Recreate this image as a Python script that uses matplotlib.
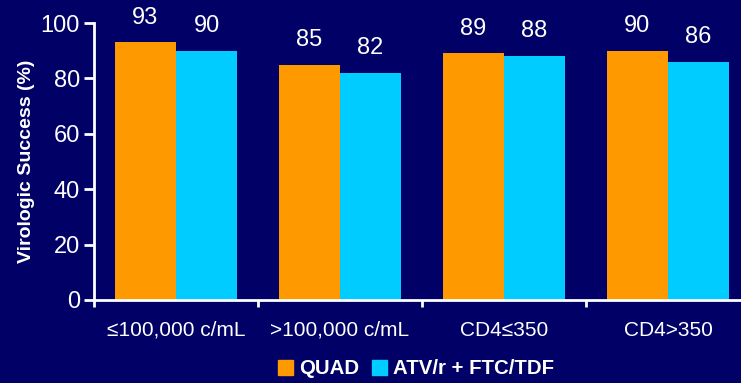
import matplotlib.pyplot as plt
import numpy as np
from matplotlib.patches import Patch

categories = ['≤100,000 c/mL', '>100,000 c/mL', 'CD4≤350', 'CD4>350']
quad = [93, 85, 89, 90]
atv = [90, 82, 88, 86]
series_names = ['QUAD', 'ATV/r + FTC/TDF']

bg = '#000066'
orange = '#FF9900'
cyan = '#00CCFF'

plt.rcParams['font.family'] = ['Liberation Sans', 'DejaVu Sans']

fig = plt.figure(figsize=(7.41, 3.83), dpi=100, facecolor=bg)
ax = fig.add_axes([94 / 741, 83 / 383, 656 / 741, 277 / 383], facecolor=bg)

x = np.arange(len(categories))
w = 0.372
b1 = ax.bar(x - w / 2, quad, w, color=orange)
b2 = ax.bar(x + w / 2, atv, w, color=cyan)

for bars in (b1, b2):
    for r in bars:
        ax.annotate(f'{r.get_height():.0f}', (r.get_x() + r.get_width() / 2, r.get_height()),
                    xytext=(0, 10), textcoords='offset points', ha='center', va='bottom',
                    color='white', fontsize=17)

ax.set_xlim(-0.5, 3.5)
ax.set_ylim(0, 100)
ax.set_yticks(range(0, 101, 20))
# boundary ticks between groups, group names on minor ticks
ax.set_xticks(np.arange(-0.5, 4, 1))
ax.set_xticklabels([])
ax.set_xticks(x, minor=True)
ax.set_xticklabels(categories, minor=True)
ax.tick_params(axis='x', which='minor', length=0, pad=15, labelsize=15, labelcolor='white')
ax.tick_params(axis='x', which='major', length=5, width=2, color='white')
ax.tick_params(axis='y', length=7, width=2, color='white', labelsize=17, labelcolor='white', pad=3)

for s in ('top', 'right'):
    ax.spines[s].set_visible(False)
for s in ('left', 'bottom'):
    ax.spines[s].set_color('white')
    ax.spines[s].set_linewidth(2)

ax.set_ylabel('Virologic Success (%)', color='white', fontsize=14, fontweight='bold', labelpad=4)

handles = [Patch(color=orange), Patch(color=cyan)]
fig.legend(handles, series_names, loc='center', bbox_to_anchor=(416 / 741, 14 / 383), ncol=2,
           frameon=False, handlelength=0.75, handleheight=0.75, handletextpad=0.3,
           columnspacing=0.6, labelcolor='white', prop={'weight': 'bold', 'size': 14.7})

fig.savefig('out.png', facecolor=bg)
